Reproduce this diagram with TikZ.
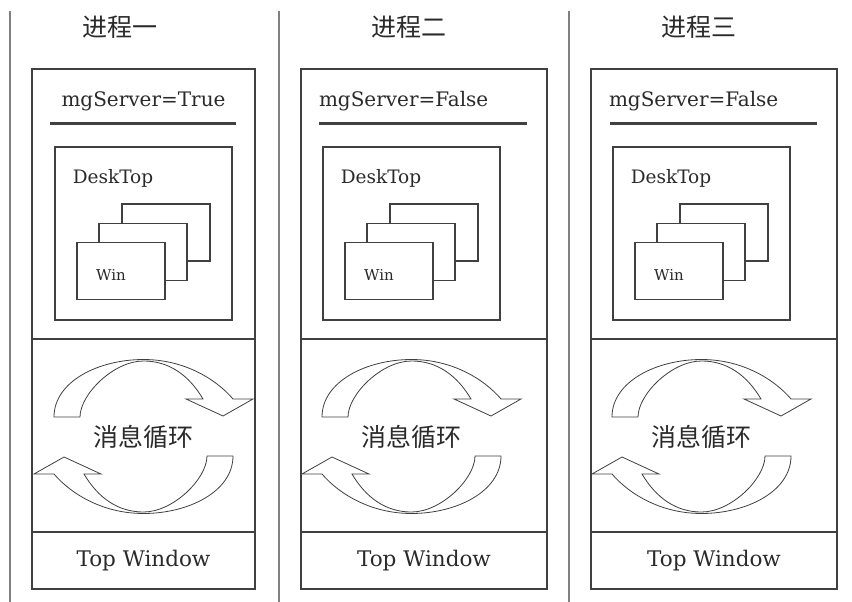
\documentclass[tikz,border=0pt]{standalone}
\usepackage{fontspec}
\setmainfont{DejaVu Serif}
\newfontfamily\cjk{Noto Sans CJK SC}
\definecolor{linegray}{HTML}{404040}
\definecolor{inkgray}{HTML}{2A2A2A}

\begin{document}
\begin{tikzpicture}[x=1pt, y=-1pt, inner sep=0, outer sep=0,
  frame/.style={rectangle, draw=linegray, line width=1.3pt},
  winbox/.style={rectangle, draw=linegray, line width=1.5pt, fill=white,
    minimum width=88pt, minimum height=57pt},
  divider/.style={draw=linegray, line width=2.6pt},
  rule/.style={draw=linegray, line width=3pt},
  sepline/.style={draw=gray, line width=1.2pt},
  title/.style={text=inkgray, font=\cjk\fontsize{25}{25}\selectfont},
  looptext/.style={text=inkgray, font=\cjk\fontsize{25}{25}\selectfont},
  flag/.style={text=inkgray, font=\fontsize{20}{20}\selectfont},
  desklabel/.style={text=inkgray, font=\fontsize{18.5}{18.5}\selectfont},
  winlabel/.style={text=inkgray, font=\fontsize{15}{15}\selectfont},
  toplabel/.style={text=inkgray, font=\fontsize{21.5}{21.5}\selectfont},
  loopmark/.pic={
    \foreach \r in {0,180}
      \draw[rotate=\r, draw=linegray, line width=0.8pt, fill=white]
        (-89.5,-19.5) .. controls (-89.5,-55) and (-45,-77) .. (0,-77)
        .. controls (40,-77) and (72,-58) .. (89.5,-37.5)
        -- (109.5,-37.5) -- (79.5,-20.5) -- (42.5,-37.5) -- (59.5,-37.5)
        .. controls (45,-62) and (25,-75.5) .. (0,-75.5)
        .. controls (-30,-75.5) and (-63.5,-42) .. (-63.5,-19.5) -- cycle;
  }]
  \useasboundingbox (0,0) rectangle (852,602);

  \draw[sepline] (10,11) -- (10,602);
  \draw[sepline] (279,11) -- (279,602);
  \draw[sepline] (569,11) -- (569,602);

% PROCESS 1
  \node[title] (title1) at (120, 27) {进程一};
  \node[frame, minimum width=223pt, minimum height=270pt] (upper1) at (143.5, 204) {};
  \node[frame, minimum width=223pt, minimum height=193pt] (loop1) at (143.5, 435.5) {};
  \node[frame, minimum width=223pt, minimum height=57pt] (top1) at (143.5, 560.5) {};
  \node[flag] (flag1) at (143.5, 101) {mgServer=True};
  \draw[rule] (50, 123) -- (236, 123);
  \node[frame, minimum width=177pt, minimum height=173pt] (desk1) at (143.5, 233.5) {};
  \node[desklabel] (desklabel1) at (113, 178) {DeskTop};
  \node[winbox] (win1_3) at (166, 232.5) {};
  \node[winbox] (win1_2) at (143, 252) {};
  \node[winbox] (win1_1) at (121, 271) {};
  \node[winlabel] (winlabel1) at (111, 275) {Win};
  \pic at (143.5, 436.5) {loopmark};
  \node[looptext] (msg1) at (143.5, 437) {消息循环};
  \node[toplabel] (toplabel1) at (top1.center) {Top Window};
  \draw[divider] (loop1.north west) -- (loop1.north east);
  \draw[divider] (top1.north west) -- (top1.north east);

% PROCESS 2
  \node[title] (title2) at (409, 27) {进程二};
  \node[frame, minimum width=246pt, minimum height=270pt] (upper2) at (424, 204) {};
  \node[frame, minimum width=246pt, minimum height=193pt] (loop2) at (424, 435.5) {};
  \node[frame, minimum width=246pt, minimum height=57pt] (top2) at (424, 560.5) {};
  \node[flag, anchor=west] (flag2) at (319, 101) {mgServer=False};
  \draw[rule] (319, 123) -- (527, 123);
  \node[frame, minimum width=177pt, minimum height=173pt] (desk2) at (411.5, 233.5) {};
  \node[desklabel] (desklabel2) at (381, 178) {DeskTop};
  \node[winbox] (win2_3) at (434, 232.5) {};
  \node[winbox] (win2_2) at (411, 252) {};
  \node[winbox] (win2_1) at (389, 271) {};
  \node[winlabel] (winlabel2) at (379, 275) {Win};
  \pic at (411.5, 436.5) {loopmark};
  \node[looptext] (msg2) at (411.5, 437) {消息循环};
  \node[toplabel] (toplabel2) at (top2.center) {Top Window};
  \draw[divider] (loop2.north west) -- (loop2.north east);
  \draw[divider] (top2.north west) -- (top2.north east);

% PROCESS 3
  \node[title] (title3) at (699, 27) {进程三};
  \node[frame, minimum width=246pt, minimum height=270pt] (upper3) at (714, 204) {};
  \node[frame, minimum width=246pt, minimum height=193pt] (loop3) at (714, 435.5) {};
  \node[frame, minimum width=246pt, minimum height=57pt] (top3) at (714, 560.5) {};
  \node[flag, anchor=west] (flag3) at (609, 101) {mgServer=False};
  \draw[rule] (610, 123) -- (817, 123);
  \node[frame, minimum width=177pt, minimum height=173pt] (desk3) at (701.5, 233.5) {};
  \node[desklabel] (desklabel3) at (671, 178) {DeskTop};
  \node[winbox] (win3_3) at (724, 232.5) {};
  \node[winbox] (win3_2) at (701, 252) {};
  \node[winbox] (win3_1) at (679, 271) {};
  \node[winlabel] (winlabel3) at (669, 275) {Win};
  \pic at (701.5, 436.5) {loopmark};
  \node[looptext] (msg3) at (701.5, 437) {消息循环};
  \node[toplabel] (toplabel3) at (top3.center) {Top Window};
  \draw[divider] (loop3.north west) -- (loop3.north east);
  \draw[divider] (top3.north west) -- (top3.north east);
\end{tikzpicture}
\end{document}
